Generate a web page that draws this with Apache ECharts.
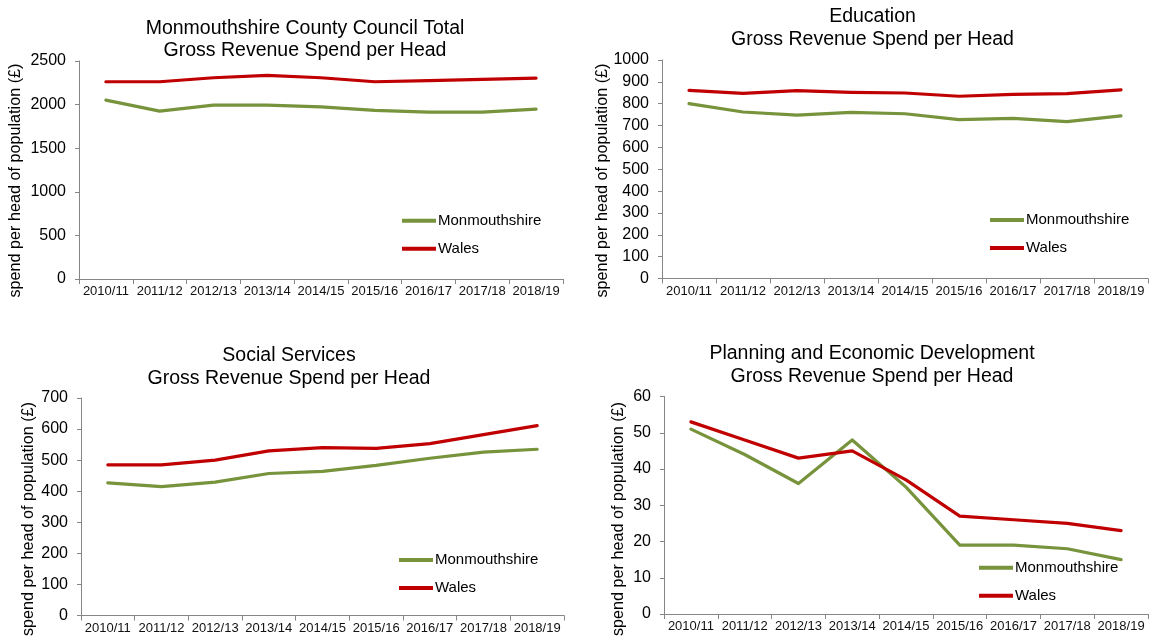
<!DOCTYPE html>
<html>
<head>
<meta charset="utf-8">
<script src="https://cdn.jsdelivr.net/npm/echarts@6/dist/echarts.min.js"></script>
<style>
  html, body { margin: 0; padding: 0; background: #fff; }
  #chart { width: 1149px; height: 637px; }
</style>
</head>
<body>
<div id="chart"></div>
<script>
const categories = ['2010/11','2011/12','2012/13','2013/14','2014/15','2015/16','2016/17','2017/18','2018/19'];

const totalMonmouthshire = [2052, 1925, 1994, 1994, 1975, 1933, 1914, 1914, 1948];
const totalWales         = [2262, 2262, 2308, 2335, 2308, 2262, 2274, 2289, 2304];

const educationMonmouthshire = [800, 762, 748, 760, 754, 727, 733, 718, 744];
const educationWales         = [861, 847, 860, 852, 849, 834, 843, 846, 863];

const socialMonmouthshire = [427, 415, 429, 457, 464, 483, 506, 526, 535];
const socialWales         = [485, 485, 500, 530, 540, 538, 553, 582, 611];

const planningMonmouthshire = [51, 44, 36, 48, 35, 19, 19, 18, 15];
const planningWales         = [53, 48, 43, 45, 37, 27, 26, 25, 23];

const titles = [
  'Monmouthshire County Council Total\nGross Revenue Spend per Head',
  'Education\nGross Revenue Spend per Head',
  'Social Services\nGross Revenue Spend per Head',
  'Planning and Economic Development\nGross Revenue Spend per Head'
];
const yMax = [2500, 1000, 700, 60];
const yInterval = [500, 100, 100, 10];
const yAxisTitle = 'spend per head of population (£)';
const seriesNames = ['Monmouthshire', 'Wales'];

const FONT = '"Liberation Sans", Arial, Helvetica, sans-serif';
const GREEN = '#77933C';
const RED = '#C00000';
const AXIS = '#868686';

const panels = [
  { grid: {left: 79, top: 61, width: 484, height: 218}, title: {x: 305, top: 17}, yname: {x: 16, y: 180.5}, legend: {left: 402, top: 212.7}, data: [totalMonmouthshire, totalWales] },
  { grid: {left: 662, top: 60, width: 486, height: 218.5}, title: {x: 872.5, top: 5.5}, yname: {x: 603, y: 180.5}, legend: {left: 990, top: 212}, data: [educationMonmouthshire, educationWales] },
  { grid: {left: 81, top: 398, width: 483, height: 217.5}, title: {x: 289, top: 344.8}, yname: {x: 29, y: 519}, legend: {left: 399, top: 552}, data: [socialMonmouthshire, socialWales] },
  { grid: {left: 664, top: 396.5, width: 484, height: 217.5}, title: {x: 872, top: 342.8}, yname: {x: 619, y: 519}, legend: {left: 979, top: 559.7}, data: [planningMonmouthshire, planningWales] }
];

const option = {
  backgroundColor: '#fff',
  animation: false,
  textStyle: { fontFamily: FONT },
  title: panels.map((p, i) => ({
    text: titles[i],
    left: p.title.x,
    top: p.title.top,
    textAlign: 'center',
    padding: 0,
    textStyle: { fontFamily: FONT, fontSize: 19.5, lineHeight: 22.5, fontWeight: 'normal', color: '#000' }
  })),
  grid: panels.map(p => Object.assign({ containLabel: false }, p.grid)),
  legend: panels.map(p => ({
    data: seriesNames,
    orient: 'vertical',
    left: p.legend.left,
    top: p.legend.top,
    padding: 0,
    itemWidth: 34,
    itemHeight: 4,
    itemGap: 12,
    icon: 'rect',
    selectedMode: false,
    textStyle: { fontFamily: FONT, fontSize: 15, lineHeight: 16, color: '#000', padding: [0, 0, 0, -3] }
  })),
  xAxis: panels.map((p, i) => ({
    type: 'category',
    gridIndex: i,
    data: categories,
    boundaryGap: true,
    axisLine: { show: true, lineStyle: { color: AXIS, width: 1 } },
    axisTick: { show: true, length: 5, lineStyle: { color: AXIS } },
    axisLabel: { interval: 0, margin: 6, fontFamily: FONT, fontSize: 13, color: '#111', hideOverlap: false },
    splitLine: { show: false }
  })),
  yAxis: panels.map((p, i) => ({
    type: 'value',
    gridIndex: i,
    min: 0,
    max: yMax[i],
    interval: yInterval[i],
    axisLine: { show: true, lineStyle: { color: AXIS, width: 1 } },
    axisTick: { show: true, length: 4, inside: false, lineStyle: { color: AXIS } },
    axisLabel: { margin: 13, fontFamily: FONT, fontSize: 16, color: '#000', formatter: v => String(v) },
    splitLine: { show: false }
  })),
  graphic: panels.map(p => ({
    type: 'text',
    x: p.yname.x,
    y: p.yname.y,
    rotation: Math.PI / 2,
    silent: true,
    style: {
      text: yAxisTitle,
      fontFamily: FONT,
      fontSize: 16.2,
      fill: '#000',
      align: 'center',
      verticalAlign: 'middle'
    }
  })),
  series: []
};

panels.forEach((p, i) => {
  [GREEN, RED].forEach((color, k) => {
    option.series.push({
      name: seriesNames[k],
      type: 'line',
      xAxisIndex: i,
      yAxisIndex: i,
      data: p.data[k],
      symbol: 'none',
      showSymbol: false,
      smooth: false,
      color: color,
      lineStyle: { color: color, width: 3.2, cap: 'round', join: 'round' },
      itemStyle: { color: color },
      z: k === 0 ? 2 : 3
    });
  });
});

const chart = echarts.init(document.getElementById('chart'), null, { renderer: 'canvas' });
chart.setOption(option);
</script>
</body>
</html>
